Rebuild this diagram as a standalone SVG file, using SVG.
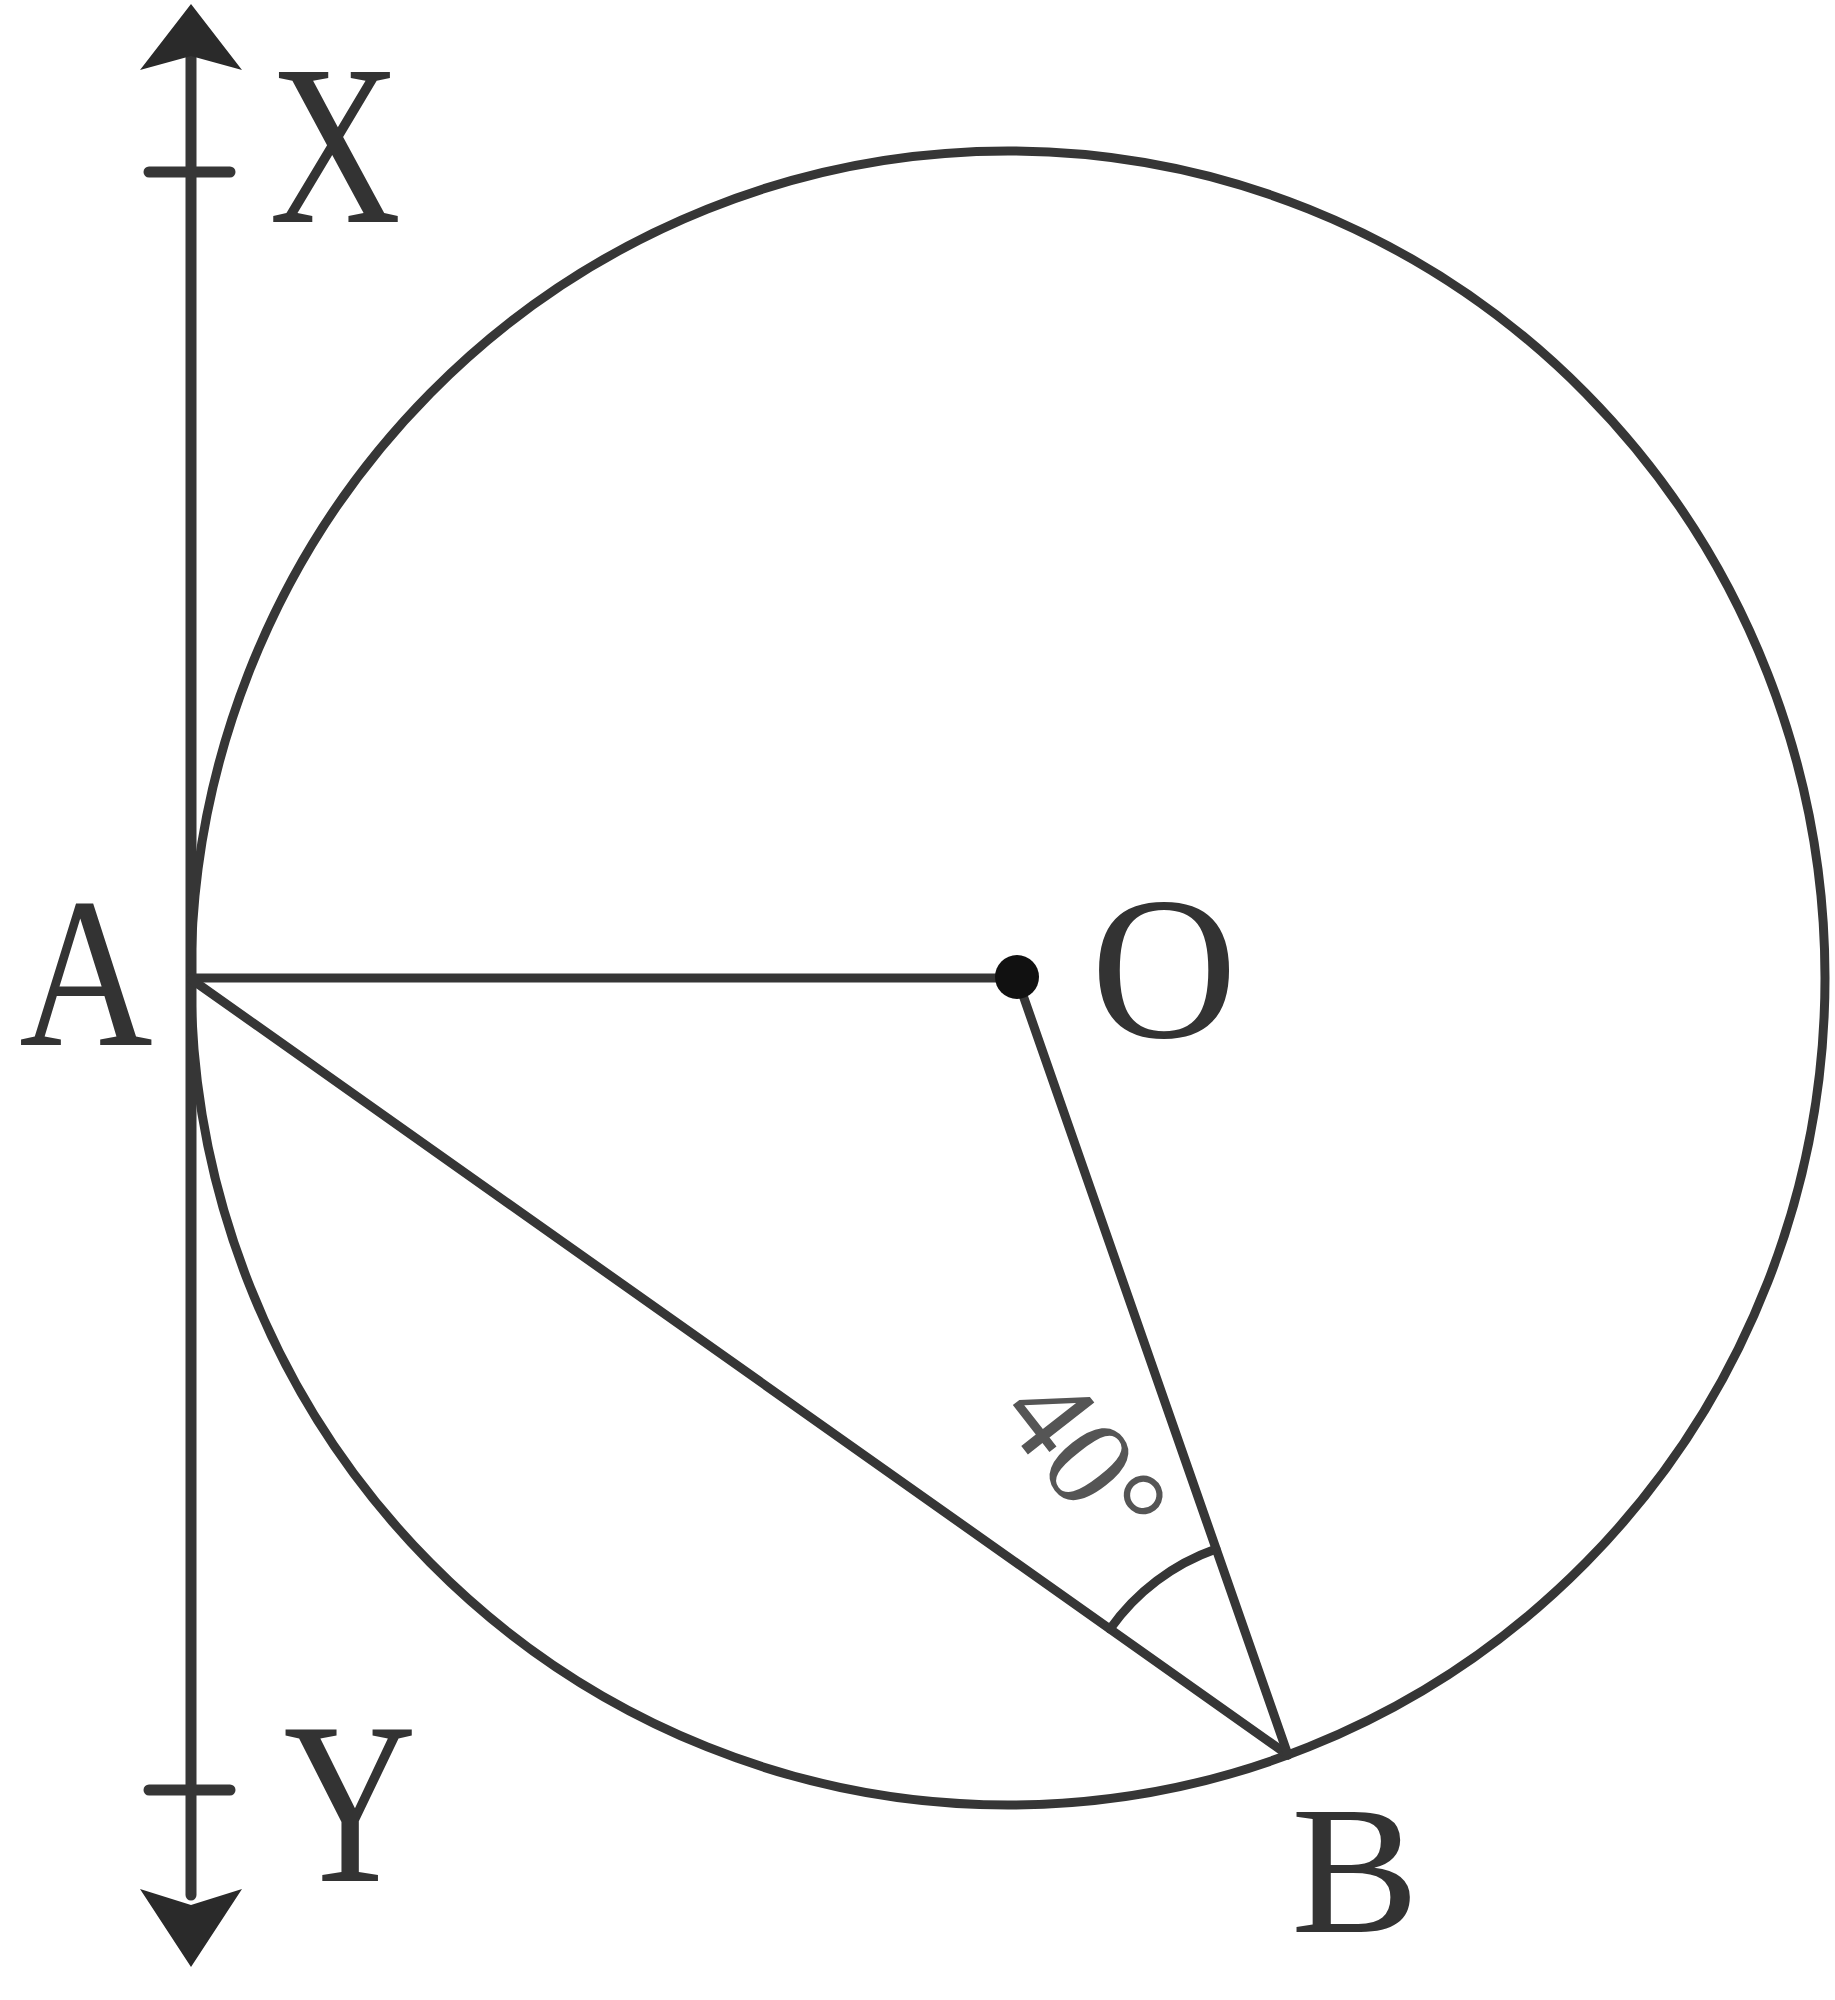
<svg xmlns="http://www.w3.org/2000/svg" width="1835" height="2000" viewBox="0 0 1835 2000">
<style>
.ln{stroke:#363636;stroke-width:9;fill:none;stroke-linecap:round}
.lbl{font-family:"Liberation Serif","Times New Roman",serif;fill:#333;text-anchor:middle}
</style>
<rect width="1835" height="2000" fill="#fff"/>
<g id="circle"><ellipse class="ln" cx="1008" cy="978" rx="817" ry="827"/></g>
<g id="tangent-XY">
<line class="ln" x1="191" y1="55" x2="191" y2="1895" style="stroke-width:11"/>
<path d="M191,4 L242,70 L191,56 L140,70 Z" fill="#2a2a2a"/>
<path d="M191,1967 L242,1889 L191,1905 L140,1889 Z" fill="#2a2a2a"/>
<line class="ln" x1="149" y1="172" x2="230" y2="172" style="stroke-width:11"/>
<line class="ln" x1="149" y1="1790" x2="230" y2="1790" style="stroke-width:11"/>
</g>
<g id="connectors">
<line class="ln" x1="191" y1="978" x2="1017" y2="978"/>
<line class="ln" x1="191" y1="979" x2="1288" y2="1755"/>
<line class="ln" x1="1017" y1="978" x2="1288" y2="1755"/>
<path class="ln" d="M1110,1629 A218,218 0 0 1 1216,1549"/>
</g>
<g id="node-O"><circle cx="1017" cy="977" r="22" fill="#111"/>
<text class="lbl" x="1164" y="1037" font-size="203">O</text></g>
<g id="node-A"><text class="lbl" transform="translate(86,1045) scale(0.86,1)" font-size="215">A</text></g>
<g id="node-B"><text class="lbl" transform="translate(1355,1932) scale(1.05,1)" font-size="183">B</text></g>
<g id="node-X"><text class="lbl" transform="translate(335,222) scale(0.8,1)" font-size="228">X</text></g>
<g id="node-Y"><text class="lbl" transform="translate(350,1881) scale(0.8,1)" font-size="230">Y</text></g>
<g id="angle-label"><text class="lbl" transform="translate(1052,1485) rotate(52)" font-size="128" style="fill:#555">40°</text></g>
</svg>
